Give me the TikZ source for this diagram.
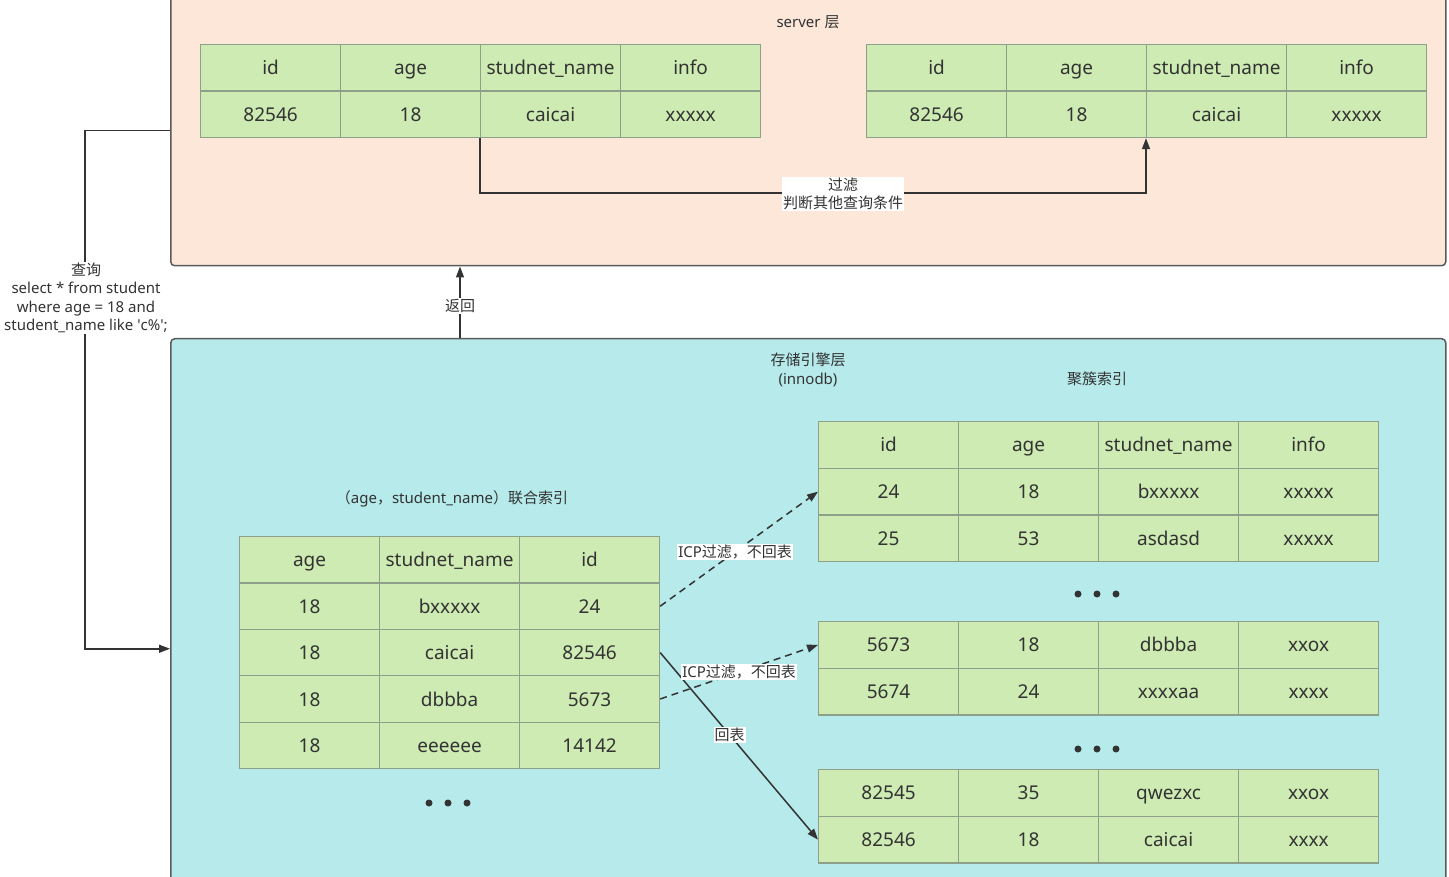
\documentclass[tikz,border=0pt]{standalone}
\usepackage{fontspec}
\setmainfont{Noto Sans}
\newfontfamily\cjk{Noto Sans CJK SC}
\usetikzlibrary{arrows.meta,calc}
\definecolor{peach}{HTML}{FCE7D9}
\definecolor{teal}{HTML}{B6EAEB}
\definecolor{cellgreen}{HTML}{CDEBB2}
\definecolor{cellline}{HTML}{8FA08A}
\definecolor{boxline}{HTML}{5A5A5A}
\definecolor{linec}{HTML}{333333}
\definecolor{txt}{HTML}{333333}
\tikzset{
  cell/.style={draw=cellline, line width=1.2pt, fill=cellgreen, minimum width=140pt, inner sep=0pt, anchor=north west, font=\fontsize{19}{22}\selectfont, text=txt, text height=16pt, text depth=2pt},
  layer/.style={draw=boxline, line width=1.5pt, rounded corners=4pt, inner sep=0pt, anchor=north west},
  lbl/.style={font=\fontsize{15}{18.5}\selectfont, text=txt, align=center, inner sep=1pt},
  lblw/.style={lbl, fill=white},
  conn/.style={draw=linec, line width=1.5pt},
  tip/.style={-{Triangle[length=11pt,width=8pt]}},
  dsh/.style={dash pattern=on 7pt off 5pt},
}
\newcommand\tblrow[5]{\foreach \t [count=\i from 0] in {#5}{\node[cell, minimum height=#4pt] (#1-\i) at ({#2+140*\i},#3) {\t};}}
\begin{document}
\begin{tikzpicture}[x=1pt,y=-1pt]
\useasboundingbox (0,0) rectangle (1449,877);
\clip (0,0) rectangle (1449,877);
% layers
\node[layer, fill=peach, minimum width=1275pt, minimum height=270pt] (server) at (170,-5) {};
\node[layer, fill=teal, minimum width=1275pt, minimum height=620pt] (storage) at (170,338) {};
\node[lbl] (servert) at (808,22) {server {\cjk 层}};
\node[lbl] (storaget) at (808,370) {{\cjk 存储引擎层}\\(innodb)};
\node[lbl] (clut) at (1097,379) {\cjk 聚簇索引};
\node[lbl] (idxt) at (452,499) {{\cjk （}age{\cjk ，}student\_name{\cjk ）联合索引}};
% server tables
\tblrow{sa0}{200}{44}{46.5}{id,age,studnet\_name,info}
\tblrow{sa1}{200}{90.5}{46.5}{82546,18,caicai,xxxxx}
\tblrow{sb0}{866}{44}{46.5}{id,age,studnet\_name,info}
\tblrow{sb1}{866}{90.5}{46.5}{82546,18,caicai,xxxxx}
% left index table
\tblrow{li0}{239}{536}{46.4}{age,studnet\_name,id}
\tblrow{li1}{239}{582.4}{46.4}{18,bxxxxx,24}
\tblrow{li2}{239}{628.8}{46.4}{18,caicai,82546}
\tblrow{li3}{239}{675.2}{46.4}{18,dbbba,5673}
\tblrow{li4}{239}{721.6}{46.4}{18,eeeeee,14142}
% clustered tables
\tblrow{ra0}{818}{421}{46.7}{id,age,studnet\_name,info}
\tblrow{ra1}{818}{467.7}{46.7}{24,18,bxxxxx,xxxxx}
\tblrow{ra2}{818}{514.4}{46.7}{25,53,asdasd,xxxxx}
\tblrow{rb0}{818}{621}{46.7}{5673,18,dbbba,xxox}
\tblrow{rb1}{818}{667.7}{46.7}{5674,24,xxxxaa,xxxx}
\tblrow{rc0}{818}{769}{46.7}{82545,35,qwezxc,xxox}
\tblrow{rc1}{818}{815.7}{46.7}{82546,18,caicai,xxxx}
% dots
\foreach \dx in {-19,0,19}{
  \fill[txt] (1097+\dx,594) circle (3.5pt);
  \fill[txt] (1097+\dx,749) circle (3.5pt);
  \fill[txt] (448+\dx,803) circle (3.5pt);
}
% filter connector
\draw[conn,tip] (sa1-2.south west) -- ++(0,55) -| (sb1-2.south west);
\node[lblw] (flt) at (843,194) {{\cjk 过滤}\\{\cjk 判断其他查询条件}};
% return connector
\coordinate (retc) at (460,306);
\draw[conn,tip] (storage.north -| retc) -- (server.south -| retc);
\node[lblw] (ret) at (retc) {\cjk 返回};
% query connector
\draw[conn,tip] (server.west) -- ++(-85,0) |- (storage.west);
\node[lblw] (qry) at (86,298) {{\cjk 查询}\\select * from student\\where age = 18 and\\student\_name like \textquotesingle c\%\textquotesingle;};
% index connectors
\draw[conn,dsh,tip] (li1-2.east) -- node[lblw,pos=0.475] (icp1) {ICP{\cjk 过滤，不回表}} (ra1-0.west);
\draw[conn,tip] (li2-2.east) -- node[lblw,pos=0.44] (back) {\cjk 回表} (rc1-0.west);
\draw[conn,dsh,tip] (li3-2.east) -- node[lblw,pos=0.5] (icp2) {ICP{\cjk 过滤，不回表}} (rb0-0.west);
\end{tikzpicture}
\end{document}
